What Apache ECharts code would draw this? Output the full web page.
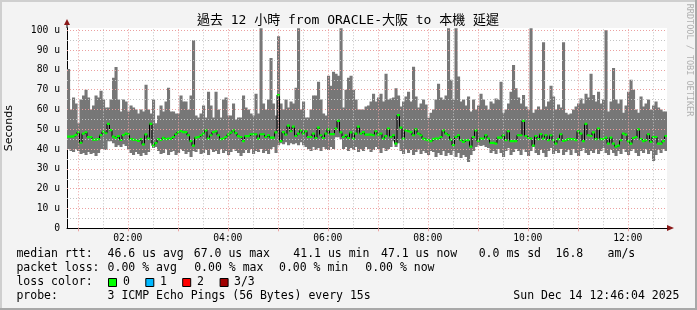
<!DOCTYPE html>
<html><head><meta charset="utf-8">
<script src="https://cdn.jsdelivr.net/npm/echarts@6/dist/echarts.min.js"></script>
<style>html,body{margin:0;padding:0;background:#f3f3f3;}#c{width:697px;height:310px;}</style>
</head><body><div id="c"></div>
<script>
// ---- data (minutes since midnight, values in microseconds) ----
const startMinute = 47;      // first bar 00:47
const stepMinutes = 3;       // 180 s consolidation
const maxVals = [
80.5,60,66,63,53,65,67,70,66,60,
62,67,66,69.5,65,61,61,65,76,81.5,
65,59,65,64,59,62,61,60,58,60,
59,72.5,60,58,65,53,57,62,59,64,
71,59,59,58,58,67,64,64,60,67,
95,57,56,58,62,56,69,62,56,69,
60,56,65,66,57,57,63,55,56,56,
67,61,60,58,57,68,58,101,63,60,
65,86,63,57,97,63,60,65,61,64,
63,71,101,60,64,56,56,60,67,67,
74,65,58,57,77,72,79,78,77,101,
61,70,76,77,70,65,60,60,60,61.5,
62,64,68,64,66,68,64,78,65,65.6,
66,70.7,67,61.5,64,66.5,69,64,81.6,66.5,
61,63,65,62.5,55.8,58.4,60,65,73,66,
65,67,101,75,65,101,76.6,64,65,62,
66.5,59,65,60,62,68,65,62,60,64,
63,65.6,65,74,58.4,60,63,69,82.5,70.7,
66,63,67.3,61.5,60,101,58.4,60,61.5,60,
94,61.5,64,72,66.5,60,62.5,61,94,58.4,
57.5,58,60,61.5,63,65.6,63,68,66,78,
67.3,64,69,63,65,100,59,64,81,65,
63,65,58.4,62,69,75,70,60,58.4,66.5,
61.5,63,65,60,62,64,61,60,59,59
];
const minVals = [
40,39,38.5,40,39,37.5,38,37,38.5,37.5,
38,36.5,38,40,40,39.5,44,44,43,41,
42,41,42.5,41.5,40,38,37,38.5,37.5,36.5,
38,37,38.5,43,40.5,41,39,37.5,38,40,
37,38.5,39,37,38,40,39,37.5,38.5,36,
39,38.5,40,37.5,38,39.5,37,40,38.5,39,
37.5,40,38,39,37,38.5,40,39,38,36.5,
38,39.5,38,40,37.5,39,38.5,40,38,39,
37.5,40,41,38,42,43,42.5,43.5,42,43,
42.5,43,42,43.5,42,41,40,39,41,39.5,
40.5,39,41,40,39.5,41,40,46,46,45,
40,41,39,40.5,39.5,41,38.5,40,39,41,
40,38.5,39.5,41,40,38,40.5,39,40,41,
44,41,43,39,37.5,40,38,39.5,37,38.5,
40,37.5,39,38,37,39,38.5,36,38,37,
39,36.5,38,37,39,36,38,35.5,37,36,
33.5,37,39,41,42,41.5,42,41,40.5,38,
39,37.5,40,38,36,39,40.5,37,38.5,40,
39,37,40,38.5,36.5,39,41,38,37,39.5,
38,36,39,40.5,37.5,39,38,40,37,38.5,
39.5,37,40,38,36.5,39,40.5,38,37,39,
38,40,37.5,39,40.5,38,37,39.5,38,36.5,
39,37.5,40,38.5,37,39,40,38,36.5,39,
38,40,37.5,39,34,37,39.5,38,40,39
];
const medVals = [
46.3,46.3,46.4,47.2,48.5,43.2,47.8,48.5,46,46,
44.8,44.8,45,47.1,48.8,48,52.7,49.6,46.3,45.7,
46.5,44.6,47.1,47.8,47.5,45,44.8,44.6,44.1,45,
42.4,47.4,45.3,52.7,41.7,43,45,44.6,45.7,45,
45.3,45.3,46.1,47.5,48.6,49.1,48.6,48.6,47,44,
41.7,45.8,46.1,47,47.8,49.5,45.3,47,48.6,49,
47,45,45.3,46.1,47.3,48.3,49.5,48.1,46.5,46.1,
44,46.5,46.5,47.5,47.5,47.5,45.3,47.5,47.5,46.1,
47,45.8,45.8,48.4,67.3,44,48.6,47.3,51.8,49,
51.3,46.6,47.8,49.5,47.8,49,46.1,46.1,47.8,45.6,
50.8,47,45.6,47.8,50,47.6,47.6,50.3,54.2,48.4,
46.1,47,45.6,48.4,45.3,47.8,51.3,47.8,48.6,47.3,
47.3,47.3,47,49,47.3,47.8,45.3,46.5,50.3,46.1,
47,42.8,57.2,50.8,45.3,49.5,49,48.6,47,50,
47.8,47,45.3,44.8,44.5,44,45,45.3,45.3,46.1,
49.5,47.8,47,44.8,42,46.1,47,44.5,43.6,44.5,
44.5,41.2,46.1,49.5,44.1,45.3,45.3,47,45.3,43.1,
43.1,42.8,45.8,45.8,47,44.5,49,44,44,44,
47,47,54.2,46.6,45.6,45.3,41.7,46.6,45,47.6,
45.3,47,44.5,47,44.5,42.8,45,47.5,44.1,44.5,
45,45,45,44.5,49,47.8,44,52.7,47,46.6,
48.4,45,50.3,45,45,45.8,42.8,45.8,42.8,41.2,
41.7,44.5,47.8,47.3,44,42.8,45.6,46.1,50,45,
44,44.5,47.5,43.6,46.1,46.1,42.8,42.8,44,46.6
];
const xTickValues = [120,240,360,480,600,720];
const xTickLabels = ['02:00','04:00','06:00','08:00','10:00','12:00'];
const yMajor = [10,20,30,40,50,60,70,80,90,100];
const yMinor = [5,15,25,35,45,55,65,75,85,95];
const xMajor = [60,120,180,240,300,360,420,480,540,600,660,720];
const xMinor = [90,150,210,270,330,390,450,510,570,630,690,750];

const titleText = '過去 12 小時 from ORACLE-大阪 to 本機 延遲';
const statLine1 = [['median rtt:',16.4],['46.6 us avg',107.6],['67.0 us max',193.8],['41.1 us min',293.3],['47.1 us now',381],['0.0 ms sd',478.7],['16.8',555.6],['am/s',607.6]];
const statLine2 = [['packet loss:',16.4],['0.00 % avg',107.6],['0.00 % max',194.2],['0.00 % min',279],['0.00 % now',365.3]];
const lossLabels = ['0','1','2','3/3'];
const lossColors = ['#00ff00','#00b8ff','#ff0000','#a00000'];
const probeText = '3 ICMP Echo Pings (56 Bytes) every 15s';
const dateText = 'Sun Dec 14 12:46:04 2025';

// ---- build ----
const endMinute = startMinute + stepMinutes * maxVals.length;
const smokeData = maxVals.map((mx, i) => [startMinute + i * stepMinutes, minVals[i], mx, medVals[i]]);
const medLine = medVals.map((m, i) => [startMinute + i * stepMinutes, m]);
medLine.push([endMinute, medVals[medVals.length - 1]]);

const MONO = "'DejaVu Sans Mono', 'Noto Sans CJK TC', monospace";
const chart = echarts.init(document.getElementById('c'), null, {renderer: 'canvas'});

function gridLines() {
  const d = [];
  xMinor.forEach(v => d.push({xAxis: v, lineStyle: {color: '#c4c4c4', type: [1, 2], width: 1, opacity: 1}}));
  yMinor.forEach(v => d.push({yAxis: v, lineStyle: {color: '#c4c4c4', type: [1, 2], width: 1, opacity: 1}}));
  xMajor.forEach(v => d.push({xAxis: v, lineStyle: {color: '#eba0a0', type: [1, 2], width: 1, opacity: 1}}));
  yMajor.forEach(v => d.push({yAxis: v, lineStyle: {color: '#eba0a0', type: [1, 2], width: 1, opacity: 1}}));
  return d;
}

const graphics = [
  {type: 'line', shape: {x1: 0, y1: 1, x2: 697, y2: 1}, style: {stroke: '#cfcfcf', lineWidth: 2}, silent: true},
  {type: 'line', shape: {x1: 1, y1: 0, x2: 1, y2: 310}, style: {stroke: '#cfcfcf', lineWidth: 2}, silent: true},
  {type: 'line', shape: {x1: 0, y1: 309, x2: 697, y2: 309}, style: {stroke: '#a8a8a8', lineWidth: 2}, silent: true},
  {type: 'line', shape: {x1: 696, y1: 0, x2: 696, y2: 310}, style: {stroke: '#a8a8a8', lineWidth: 2}, silent: true},
  {type: 'text', x: 348, y: 21, style: {text: titleText, font: '13px ' + MONO, fill: '#000', textAlign: 'center', textVerticalAlign: 'middle'}},
  {type: 'text', x: 689, y: 60, rotation: -Math.PI / 2, style: {text: 'RRDTOOL / TOBI OETIKER', font: '8.5px ' + MONO, fill: '#b0b0b0', textAlign: 'center', textVerticalAlign: 'middle'}},
  {type: 'line', shape: {x1: 67, y1: 24, x2: 67, y2: 28}, style: {stroke: '#000', lineWidth: 1}},
  {type: 'polygon', shape: {points: [[64, 25], [70, 25], [67, 19]]}, style: {fill: '#8b1a1a'}},
  {type: 'polygon', shape: {points: [[667, 225], [667, 231], [674, 228]]}, style: {fill: '#8b1a1a'}}
];
function addLine(items, y) {
  items.forEach(([t, x]) => graphics.push({type: 'text', x: x, y: y, style: {text: t, font: '11.5px ' + MONO, fill: '#000', textVerticalAlign: 'middle'}}));
}
addLine(statLine1, 254.5);
addLine(statLine2, 268.5);
addLine([['loss color:', 16.4]], 282.5);
const boxX = [108, 145.3, 182.2, 219.6];
const labX = [123, 160, 197, 234];
lossLabels.forEach((l, i) => {
  graphics.push({type: 'rect', shape: {x: boxX[i] + 0.5, y: 278.5, width: 8, height: 8}, style: {fill: lossColors[i], stroke: '#000', lineWidth: 1}});
  graphics.push({type: 'text', x: labX[i], y: 282.5, style: {text: l, font: '11.5px ' + MONO, fill: '#000', textVerticalAlign: 'middle'}});
});
addLine([['probe:', 16.4], [probeText, 107.6], [dateText, 513.3]], 296.5);

chart.setOption({
  animation: false,
  backgroundColor: '#f3f3f3',
  grid: {left: 67, right: 30, top: 27.9, bottom: 81.7, containLabel: false, outerBoundsMode: 'none', show: true, backgroundColor: '#ffffff', borderWidth: 0},
  xAxis: {
    type: 'value', min: startMinute, max: endMinute,
    axisLine: {show: true, lineStyle: {color: '#000', width: 1}},
    axisTick: {show: true, customValues: xMajor, length: 3, lineStyle: {color: '#eba0a0'}},
    axisLabel: {customValues: xTickValues, formatter: v => xTickLabels[xTickValues.indexOf(v)] || '', fontFamily: MONO, fontSize: 9.7, color: '#000', margin: 5},
    splitLine: {show: false}
  },
  yAxis: {
    type: 'value', min: 0, max: 101.2, interval: 10,
    name: 'Seconds', nameLocation: 'middle', nameRotate: 90, nameGap: 52,
    nameTextStyle: {fontFamily: "'DejaVu Sans', sans-serif", fontSize: 11, color: '#000'},
    axisLine: {show: true, lineStyle: {color: '#000', width: 1}},
    axisTick: {show: false},
    axisLabel: {formatter: v => (v > 100.01 ? '' : (v === 0 ? '0' : v + ' u')), fontFamily: MONO, fontSize: 9.7, color: '#000', margin: 7},
    splitLine: {show: false}
  },
  graphic: graphics,
  series: [
    {
      type: 'scatter', data: [[startMinute, 0]], symbolSize: 0, z: 1, silent: true,
      markLine: {silent: true, symbol: ['none', 'none'], label: {show: false}, animation: false, data: gridLines()}
    },
    {
      type: 'custom', z: 2, clip: true, data: smokeData,
      renderItem: (params, api) => {
        const t = api.value(0), lo = api.value(1), hi = api.value(2);
        const a = api.coord([t, hi]), b = api.coord([t + stepMinutes, lo]);
        return {type: 'rect', shape: {x: a[0], y: a[1], width: b[0] - a[0] + 0.6, height: b[1] - a[1]}, style: {fill: '#777777'}};
      }
    },
    {
      type: 'line', z: 3, data: medLine, step: 'end', symbol: 'none', lineStyle: {color: '#000', width: 1}, silent: true
    },
    {
      type: 'custom', z: 4, clip: true, data: smokeData,
      renderItem: (params, api) => {
        const t = api.value(0), m = api.value(3);
        const a = api.coord([t, m]), b = api.coord([t + stepMinutes, m]);
        return {type: 'rect', shape: {x: a[0], y: a[1] - 1.1, width: b[0] - a[0] + 0.3, height: 2.2}, style: {fill: '#00ff00'}};
      }
    }
  ]
});
</script></body></html>
